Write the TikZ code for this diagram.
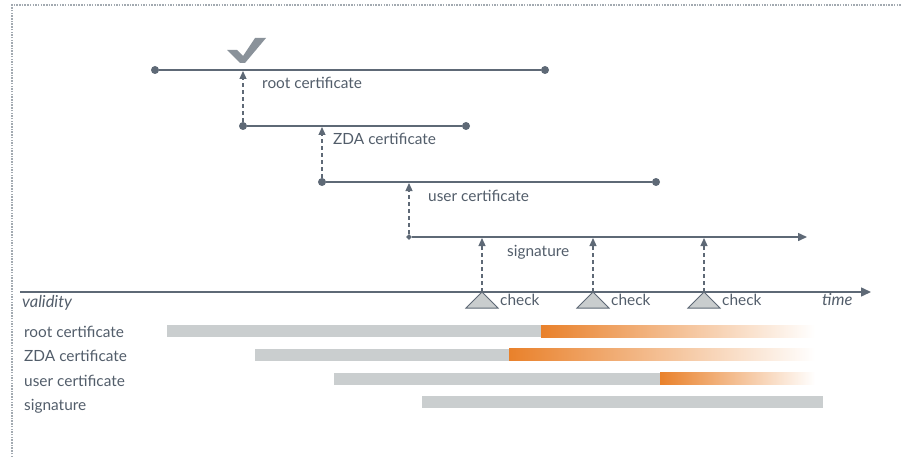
\documentclass[tikz,border=0pt]{standalone}
\usepackage{fontspec}
\setmainfont{Lato}
\usetikzlibrary{arrows.meta,shapes.geometric}
\definecolor{ink}{HTML}{5E6976}
\definecolor{txt}{HTML}{525D6A}
\definecolor{barg}{HTML}{CACECF}
\definecolor{orng}{HTML}{E9812B}
\definecolor{trifill}{HTML}{C9CDCE}
\definecolor{chk}{HTML}{8A929A}
\definecolor{frm}{HTML}{A3AAB1}
\tikzset{
  dot/.style={circle, fill=ink, inner sep=0pt, minimum size=8pt},
  sigstart/.style={diamond, fill=ink, inner sep=0pt, minimum size=6pt},
  tl/.style={draw=ink, line width=1.5pt},
  dsh/.style={draw=ink, line width=1.2pt, dash pattern=on 4pt off 3pt, -{Triangle[length=8pt,width=7pt]}},
  lbl/.style={text=txt, font=\fontsize{15.4}{18}\selectfont, inner sep=0pt, anchor=base west},
  ilbl/.style={lbl, font=\fontsize{16.5}{19}\selectfont\itshape},
  chktri/.style={fill=trifill, draw=ink, line width=1pt, line join=miter},
  bar/.style={fill=barg}
}
\begin{document}
\begin{tikzpicture}[x=1pt,y=-1pt]
\useasboundingbox (0,0) rectangle (901,457);

% frame
\draw[frm, line width=1.5pt, dash pattern=on 1.5pt off 1.2pt] (12,457) -- (12,5) -- (901,5);

% check mark above the root certificate
\fill[chk] (227,50) -- (237,50) -- (243,56) -- (255,38) -- (266,38) -- (245,63) -- (240,63) -- cycle;

% certificate chain
\node[dot] (r1) at (155,70) {};
\node[dot] (r2) at (545,70) {};
\draw[tl] (r1) -- (r2);
\coordinate (ra) at (243,71);
\node[lbl] (rl) at (262,89) {root certificate};

\node[dot] (z1) at (243,126) {};
\node[dot] (z2) at (466,126) {};
\draw[tl] (z1) -- (z2);
\coordinate (za) at (322,127);
\node[lbl] (zl) at (333,145) {ZDA certificate};

\node[dot] (u1) at (322,182) {};
\node[dot] (u2) at (656,182) {};
\draw[tl] (u1) -- (u2);
\coordinate (ua) at (409,183);
\node[lbl] (ul) at (428,201) {user certificate};

\node[sigstart] (s1) at (409,237) {};
\coordinate (s2) at (807,237);
\draw[tl, -{Triangle[length=9pt,width=8pt]}] (s1) -- (s2);
\node[lbl] (sl) at (507,256) {signature};

\draw[dsh] (z1) -- (ra);
\draw[dsh] (u1) -- (za);
\draw[dsh] (s1) -- (ua);

% time axis
\coordinate (t0) at (20,292);
\coordinate (t1) at (871,292);
\draw[tl, -{Triangle[length=10pt,width=9pt]}] (t0) -- (t1);
\node[ilbl] (vl) at (22,307) {validity};
\node[ilbl] (tm) at (822,305) {time};

% checks of the signature
\foreach \x/\n in {482/a,593/b,704/c}{
  \coordinate (c\n) at (\x,292);
  \coordinate (s\n) at (\x,238);
  \filldraw[chktri] (\x,292) -- (\x+16,308) -- (\x-16,308) -- cycle;
  \draw[dsh] (c\n) -- (s\n);
  \node[lbl] (k\n) at (\x+18,305) {check};
}

% validity bars
\node[lbl] (b1) at (24,337) {root certificate};
\node[lbl] (b2) at (24,361.5) {ZDA certificate};
\node[lbl] (b3) at (24,386) {user certificate};
\node[lbl] (b4) at (24,410) {signature};

\fill[bar] (167,325) rectangle (541,337);
\shade[left color=orng, right color=white] (541,325) rectangle (815,337);
\fill[bar] (255,348.5) rectangle (509,360.5);
\shade[left color=orng, right color=white] (509,348.5) rectangle (815,360.5);
\fill[bar] (334,372.5) rectangle (660,384.5);
\shade[left color=orng, right color=white] (660,372.5) rectangle (815,384.5);
\fill[bar] (422,396) rectangle (823,408);
\end{tikzpicture}
\end{document}
